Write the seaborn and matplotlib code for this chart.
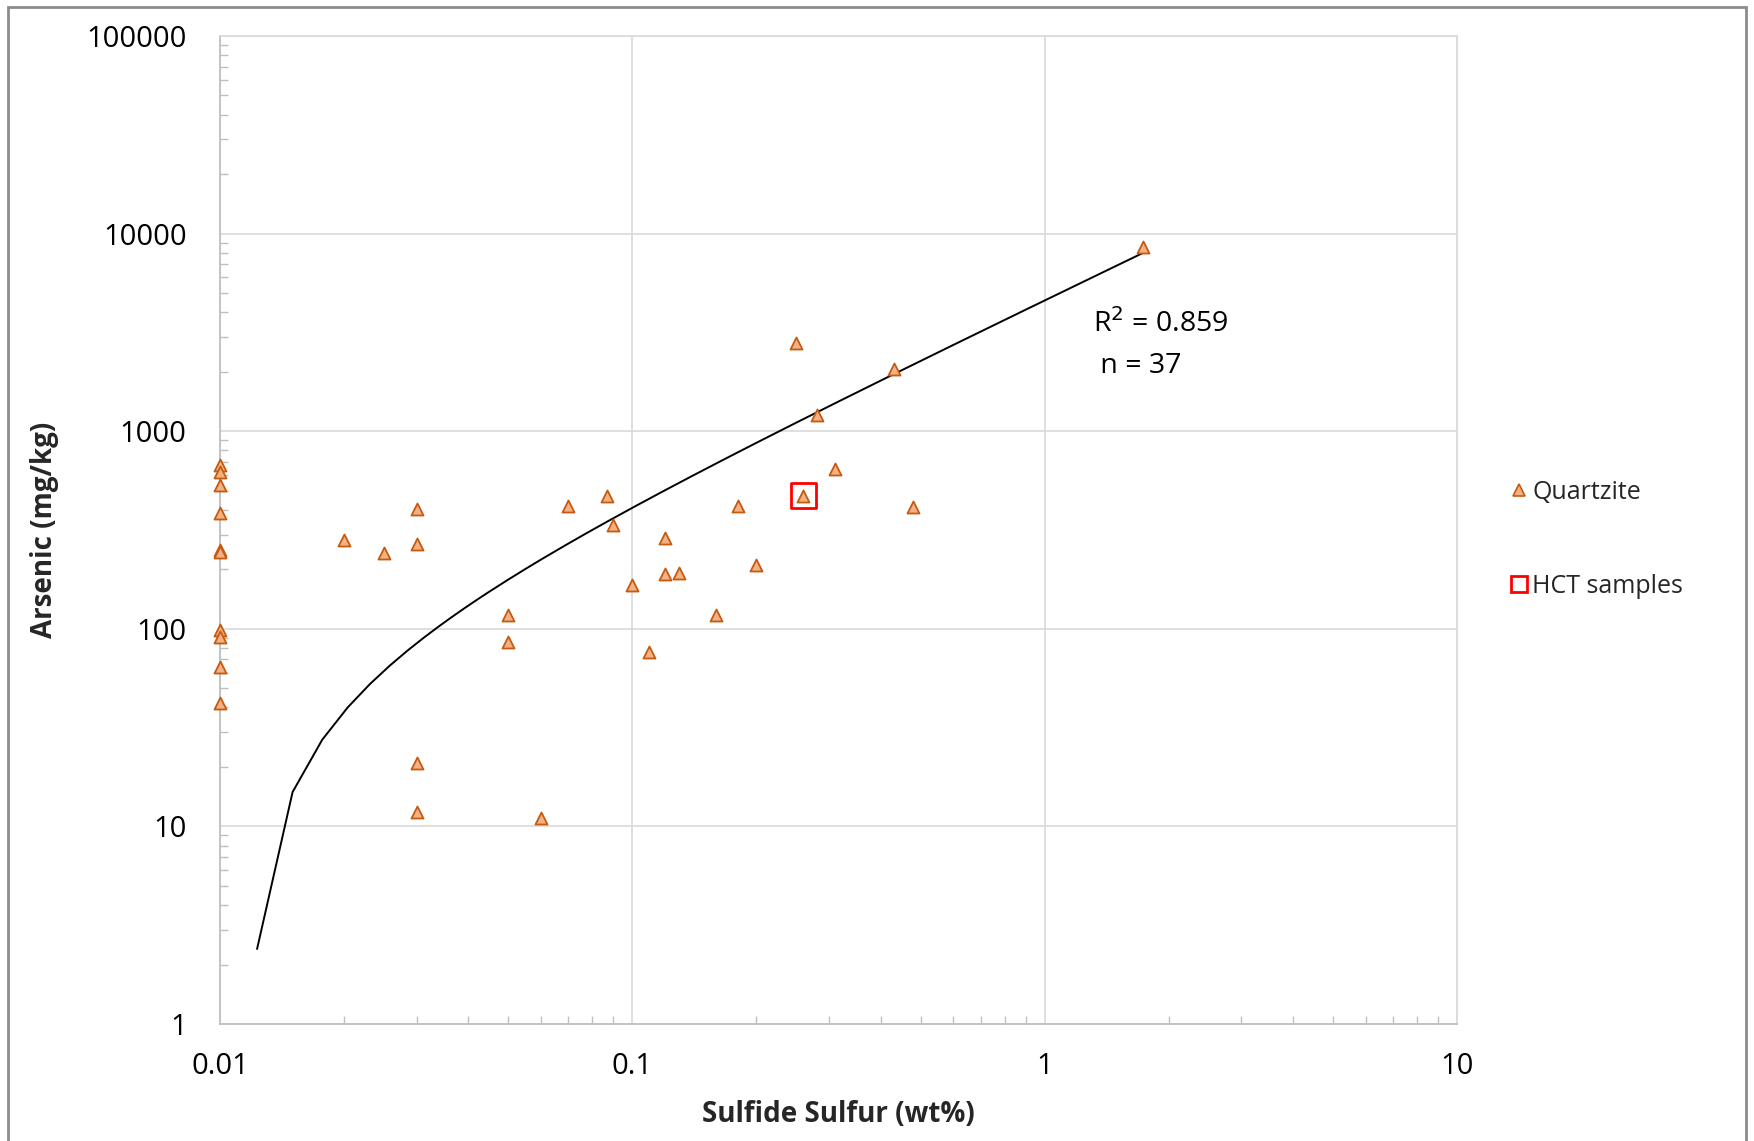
import numpy as np
import pandas as pd
import matplotlib
matplotlib.use("Agg")
import matplotlib.pyplot as plt
from matplotlib.lines import Line2D
from matplotlib.patches import Rectangle
from matplotlib.ticker import LogLocator, FixedLocator, NullFormatter
import seaborn as sns

# ---- data ----
quartzite_s = [0.01, 0.01, 0.01, 0.01, 0.01, 0.01, 0.01, 0.01, 0.01, 0.01,
               0.02, 0.025, 0.03, 0.03, 0.03, 0.03, 0.05, 0.05, 0.06, 0.07,
               0.087, 0.09, 0.1, 0.11, 0.12, 0.12, 0.13, 0.16, 0.18, 0.2,
               0.25, 0.26, 0.28, 0.31, 0.43, 0.48, 1.73]
quartzite_as = [674, 624, 534, 385, 250, 246, 99, 91, 64, 42,
                283, 242, 402, 269, 21, 11.8, 118, 86, 11.0, 419,
                471, 335, 166, 76, 287, 189, 191, 118, 419, 210,
                2808, 471, 1202, 644, 2055, 413, 8510]
hct_s = [0.26]
hct_as = [471]
trend_slope = 4642.0
trend_intercept = -54.7
trend_x_start = 0.0123
trend_x_end = 1.727
trend_x_step = 0.0027
x_ticks = [0.01, 0.1, 1, 10]
x_tick_labels = ["0.01", "0.1", "1", "10"]
y_ticks = [1, 10, 100, 1000, 10000, 100000]
y_tick_labels = ["1", "10", "100", "1000", "10000", "100000"]
annot_text = "R$^2$ = 0.859\n n = 37"

sns.set_theme(style="white")
plt.rcParams['font.family'] = ['Open Sans', 'DejaVu Sans']

fig = plt.figure(figsize=(17.54, 11.41), dpi=100)
ax = fig.add_axes([220/1754, 1 - 1024/1141, (1457-220)/1754, (1024-36)/1141])

df_q = pd.DataFrame({"S": quartzite_s, "As": quartzite_as})
df_h = pd.DataFrame({"S": hct_s, "As": hct_as})

# linear trendline (sampled evenly in x, as the spreadsheet does)
tx = np.arange(trend_x_start, trend_x_end + 1e-9, trend_x_step)
tx = np.append(tx, trend_x_end)
ty = trend_slope * tx + trend_intercept
ax.plot(tx, ty, color="black", lw=1.4, zorder=3)

sns.scatterplot(data=df_q, x="S", y="As", marker="^", s=75,
                color="#F4B183", edgecolor="#C55A11", linewidth=1.3,
                ax=ax, zorder=4, clip_on=False)
sns.scatterplot(data=df_h, x="S", y="As", marker="s", s=330,
                facecolor="none", edgecolor="#FF0000", linewidth=2.0,
                ax=ax, zorder=5)

ax.set_xscale("log")
ax.set_yscale("log")
ax.set_xlim(0.01, 10)
ax.set_ylim(1, 100000)

ax.xaxis.set_major_locator(FixedLocator(x_ticks))
ax.yaxis.set_major_locator(FixedLocator(y_ticks))
ax.set_xticklabels(x_tick_labels)
ax.set_yticklabels(y_tick_labels)
ax.xaxis.set_minor_locator(LogLocator(base=10, subs=np.arange(2, 10)))
ax.yaxis.set_minor_locator(LogLocator(base=10, subs=np.arange(2, 10)))
ax.xaxis.set_minor_formatter(NullFormatter())
ax.yaxis.set_minor_formatter(NullFormatter())

ax.tick_params(axis="both", which="major", length=0, labelsize=21,
               labelcolor="black")
ax.tick_params(axis="x", which="major", pad=20)
ax.tick_params(axis="y", which="major", pad=24)
ax.tick_params(axis="both", which="minor", direction="in", length=6,
               width=1.0, color="#BFBFBF", left=True, bottom=True)

ax.grid(True, which="major", color="#D9D9D9", lw=1.2)
for side in ["left", "bottom"]:
    ax.spines[side].set_color("#BFBFBF")
    ax.spines[side].set_linewidth(1.3)
for side in ["top", "right"]:
    ax.spines[side].set_color("#D9D9D9")
    ax.spines[side].set_linewidth(1.2)

ax.set_xlabel("Sulfide Sulfur (wt%)", fontsize=20, fontweight="bold", labelpad=14)
ax.set_ylabel("Arsenic (mg/kg)", fontsize=20, fontweight="bold", labelpad=20)

ax.text(1.31, 4150, annot_text, fontsize=20.5, va="top", ha="left",
        linespacing=1.62, color="black")

handles = [
    Line2D([], [], ls="none", marker="^", markersize=8, markerfacecolor="#F4B183",
           markeredgecolor="#C55A11", markeredgewidth=1.2),
    Line2D([], [], ls="none", marker="s", markersize=12, markerfacecolor="none",
           markeredgecolor="#FF0000", markeredgewidth=2.0),
]
fig.legend(handles, ["Quartzite", "HCT samples"], loc="upper left",
           bbox_to_anchor=(1496/1754, 1 - 470/1141), frameon=False,
           fontsize=18, labelspacing=2.75, handletextpad=0.05,
           handlelength=1.0, borderaxespad=0)

# outer chart border
fig.add_artist(Rectangle((8/1754, -0.05), (1746-8)/1754, 1 - 7/1141 + 0.05,
                         transform=fig.transFigure, fill=False,
                         edgecolor="#8C8C8C", lw=2.0))

fig.savefig("out.png", dpi=100)
